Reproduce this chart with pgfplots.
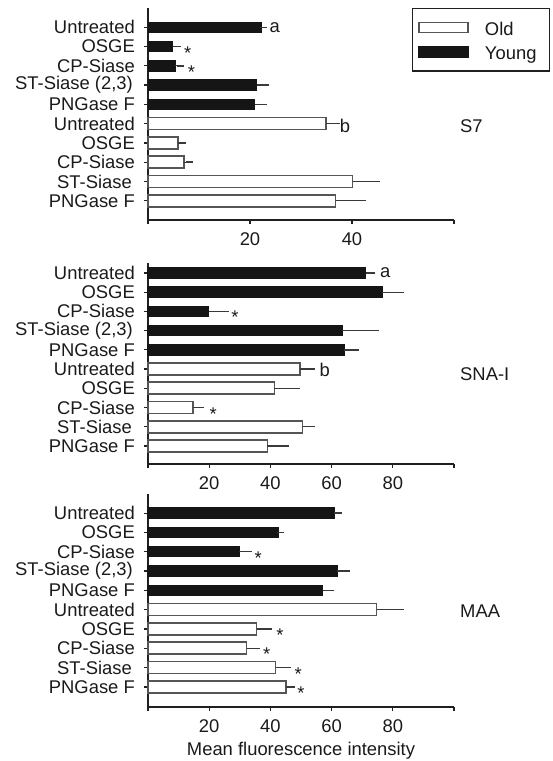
\documentclass[border=0pt]{standalone}
\usepackage{fontspec}
\setmainfont{Liberation Sans}
\usepackage{pgfplots}
\pgfplotsset{compat=1.18}
\definecolor{txt}{HTML}{1A1A1A}
\definecolor{axc}{HTML}{202020}
\definecolor{blk}{HTML}{151515}
\definecolor{edge}{HTML}{555555}
\definecolor{errc}{HTML}{3A3A3A}
\newcommand{\fs}{\fontsize{18.4}{22}\selectfont}
\newcommand{\lstrut}{\rule[-3.4pt]{0pt}{20pt}}
\tikzset{
  ann/.style={anchor=base west, font=\fs, text=txt, inner sep=0pt},
  star/.style={anchor=base, font=\fs, text=txt, inner sep=0pt, yshift=-12.5pt},
}
\pgfplotsset{
  panel/.style={
    scale only axis, width=306pt, xmin=0, clip=false,
    axis x line*=bottom, axis y line*=left,
    axis line style={axc, line width=2.3pt},
    major tick style={axc, line width=1.2pt},
    tick align=outside, major tick length=4pt,
    ytick={1,...,10},
    yticklabels={PNGase F, ST-Siase\hspace*{3pt}, CP-Siase, OSGE, Untreated, PNGase F, {ST-Siase (2,3)\hspace*{2pt}}, CP-Siase, OSGE, Untreated},
    tick label style={font=\fs, text=txt},
    yticklabel style={inner sep=0pt, xshift=-9pt},
    xticklabel style={inner sep=0pt, yshift=-8pt},
    legend image code/.code={\draw[##1, line width=1.6pt] (0pt,-5pt) rectangle (49pt,5pt);},
  },
  young/.style={xbar, bar shift=0pt, bar width=10.5pt, fill=blk, draw=blk, line width=1pt,
    error bars/.cd, x dir=plus, x explicit,
    error bar style={errc, line width=1.3pt},
    error mark options={errc, line width=1.4pt, mark size=3.5pt}},
  old/.style={xbar, bar shift=0pt, bar width=12pt, fill=white, draw=edge, line width=1.6pt,
    error bars/.cd, x dir=plus, x explicit,
    error bar style={errc, line width=1.3pt},
    error mark options={errc, line width=1.4pt, mark size=3.5pt}},
}
\begin{document}
\begin{tikzpicture}
\path[use as bounding box] (0,0) rectangle (552pt,761pt);

% ---------------- S7 ----------------
\begin{axis}[panel, at={(148pt,753pt)}, anchor=north west,
  height=212pt, ymin=0, ymax=11, xmax=60,
  xtick={0,20,40,60}, xticklabels={,20,40,},
  legend style={at={(axis description cs:0.8618,1)}, anchor=north west,
    draw=axc, line width=1.3pt, fill=white, font=\fs, text=txt,
    inner xsep=6pt, inner ysep=9.8pt, row sep=6.7pt,
    nodes={inner sep=0pt},
    /tikz/every odd column/.append style={column sep=16pt}},
  legend cell align=left]
\addplot[old] coordinates {
(36.8,1) +- (5.3,0)
(40.1,2) +- (4.7,0)
(7.1,3) +- (1.0,0)
(5.9,4) +- (0.9,0)
(34.9,5) +- (2.1,0)
};
\addlegendentry{\lstrut Old}
\addplot[young] coordinates {
(20.9,6) +- (1.7,0)
(21.3,7) +- (1.8,0)
(5.3,8) +- (1.0,0)
(4.9,9) +- (0.9,0)
(22.2,10) +- (0.4,0)
};
\addlegendentry{\lstrut Young\hspace*{7pt}}
\node[ann, yshift=-5pt] at (axis cs:23.8,10) {a};
\node[ann, yshift=-9pt] at (axis cs:37.6,5) {b};
\node[star] at (axis cs:7.8,9) {*};
\node[star] at (axis cs:8.5,8) {*};
\end{axis}

% ---------------- SNA-I ----------------
\begin{axis}[panel, at={(148pt,498pt)}, anchor=north west,
  height=201pt, ymin=0.06, ymax=10.52, xmax=100,
  xtick={0,20,40,60,80,100}, xticklabels={,20,40,60,80,}]
\addplot[old] coordinates {
(39.0,1) +- (6.0,0)
(50.5,2) +- (2.9,0)
(14.8,3) +- (2.5,0)
(41.3,4) +- (7.3,0)
(49.7,5) +- (3.6,0)
};
\addplot[young] coordinates {
(64.1,6) +- (3.7,0)
(63.4,7) +- (10.9,0)
(19.9,8) +- (5.3,0)
(76.5,9) +- (5.9,0)
(71.2,10) +- (2.0,0)
};
\node[ann, yshift=-4.3pt] at (axis cs:75.8,10) {a};
\node[ann, yshift=-7.3pt] at (axis cs:56,5) {b};
\node[star] at (axis cs:28.4,8) {*};
\node[star] at (axis cs:21.3,3) {*};
\end{axis}

% ---------------- MAA ----------------
\begin{axis}[panel, at={(148pt,267pt)}, anchor=north west,
  height=213pt, ymin=-0.04, ymax=10.99, xmax=100,
  xtick={0,20,40,60,80,100}, xticklabels={,20,40,60,80,},
  xlabel={Mean fluorescence intensity},
  xlabel style={font=\fs, text=txt, inner sep=0pt, anchor=base,
    at={(axis description cs:0.5,0)}, yshift=-48pt}]
\addplot[old] coordinates {
(45.0,1) +- (1.9,0)
(41.7,2) +- (3.8,0)
(32.2,3) +- (3.3,0)
(35.5,4) +- (3.8,0)
(74.7,5) +- (7.7,0)
};
\addplot[young] coordinates {
(57.1,6) +- (2.6,0)
(61.9,7) +- (3.0,0)
(29.8,8) +- (3.0,0)
(42.5,9) +- (0.8,0)
(60.8,10) +- (1.5,0)
};
\node[star] at (axis cs:36.0,8) {*};
\node[star] at (axis cs:43.1,4) {*};
\node[star] at (axis cs:38.8,3) {*};
\node[star] at (axis cs:49.1,2) {*};
\node[star] at (axis cs:50.0,1) {*};
\end{axis}

\node[anchor=base west, font=\fs, text=txt, inner sep=0pt] at (460pt,628.3pt) {S7};
\node[anchor=base west, font=\fs, text=txt, inner sep=0pt] at (460pt,380.3pt) {SNA-I};
\node[anchor=base west, font=\fs, text=txt, inner sep=0pt] at (460pt,143.7pt) {MAA};
\end{tikzpicture}
\end{document}
